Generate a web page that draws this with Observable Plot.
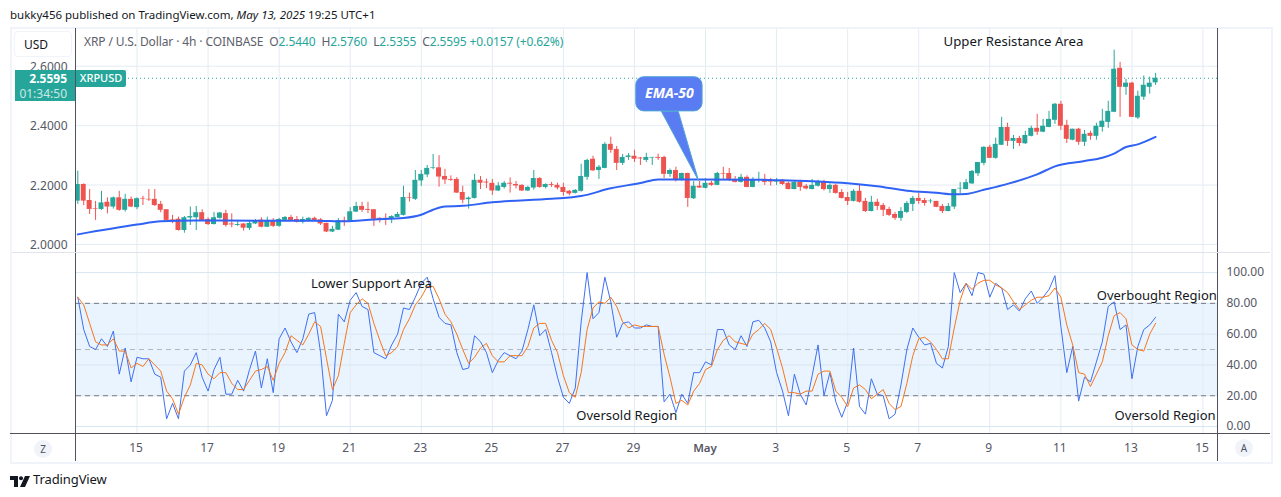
<!DOCTYPE html>
<html><head><meta charset="utf-8">
<script src="https://cdn.jsdelivr.net/npm/d3@7"></script>
<script src="https://cdn.jsdelivr.net/npm/@observablehq/plot@0.6"></script>
<style>
html,body{margin:0;padding:0;background:#fff;overflow:hidden}
#page{position:relative;width:1281px;height:497px;font-family:"Noto Sans",sans-serif;font-size:12px;color:#131722}
#page svg{font-family:"Noto Sans",sans-serif}
.abs{position:absolute;white-space:nowrap}
.plot{position:absolute;left:0}
.up{color:#26a69a}
</style></head><body>
<div id="page"></div>
<script>
const opens=[2.146,2.202,2.148,2.121,2.118,2.142,2.126,2.157,2.115,2.152,
2.124,2.155,2.152,2.152,2.135,2.117,2.084,2.085,2.047,2.089,
2.090,2.107,2.084,2.067,2.088,2.104,2.069,2.064,2.069,2.054,
2.069,2.082,2.058,2.081,2.061,2.081,2.091,2.084,2.075,2.081,
2.088,2.083,2.071,2.042,2.048,2.081,2.078,2.109,2.128,2.118,
2.117,2.088,2.088,2.084,2.091,2.098,2.158,2.152,2.214,2.234,
2.257,2.258,2.229,2.219,2.219,2.175,2.151,2.155,2.216,2.210,
2.206,2.180,2.192,2.206,2.202,2.199,2.180,2.190,2.222,2.192,
2.202,2.199,2.192,2.179,2.172,2.179,2.226,2.287,2.249,2.256,
2.337,2.320,2.273,2.293,2.297,2.291,2.283,2.291,2.293,2.293,
2.236,2.249,2.216,2.239,2.154,2.196,2.189,2.206,2.199,2.239,
2.239,2.219,2.209,2.226,2.192,2.215,2.219,2.212,2.210,2.212,
2.206,2.185,2.209,2.196,2.185,2.196,2.212,2.185,2.199,2.175,
2.158,2.145,2.179,2.145,2.111,2.142,2.131,2.118,2.101,2.088,
2.108,2.135,2.155,2.148,2.144,2.145,2.128,2.111,2.126,2.187,
2.185,2.204,2.238,2.273,2.327,2.290,2.334,2.394,2.347,2.357,
2.339,2.364,2.391,2.378,2.394,2.418,2.472,2.401,2.351,2.388,
2.344,2.374,2.364,2.394,2.411,2.445,2.593,2.529,2.543,2.426,
2.496,2.529,2.5440];
const highs=[2.247,2.204,2.185,2.145,2.179,2.157,2.160,2.179,2.169,2.160,
2.157,2.162,2.185,2.185,2.145,2.117,2.098,2.092,2.094,2.126,
2.128,2.117,2.090,2.108,2.108,2.115,2.103,2.081,2.070,2.081,
2.084,2.090,2.092,2.087,2.088,2.094,2.098,2.094,2.092,2.090,
2.092,2.087,2.072,2.061,2.087,2.092,2.124,2.142,2.142,2.142,
2.117,2.090,2.103,2.097,2.108,2.196,2.173,2.249,2.249,2.266,
2.303,2.299,2.253,2.231,2.225,2.196,2.160,2.236,2.229,2.220,
2.219,2.208,2.212,2.224,2.212,2.201,2.196,2.249,2.225,2.204,
2.209,2.206,2.206,2.182,2.185,2.270,2.287,2.297,2.266,2.343,
2.361,2.330,2.303,2.306,2.317,2.293,2.307,2.293,2.304,2.297,
2.254,2.260,2.240,2.240,2.212,2.212,2.222,2.212,2.243,2.260,
2.256,2.229,2.236,2.231,2.225,2.243,2.236,2.222,2.222,2.219,
2.209,2.212,2.216,2.202,2.219,2.216,2.216,2.204,2.202,2.185,
2.175,2.185,2.199,2.155,2.162,2.152,2.138,2.125,2.108,2.124,
2.145,2.162,2.172,2.155,2.152,2.145,2.135,2.138,2.185,2.209,
2.219,2.249,2.276,2.329,2.334,2.358,2.428,2.408,2.367,2.364,
2.381,2.398,2.438,2.421,2.448,2.475,2.482,2.418,2.388,2.391,
2.384,2.381,2.408,2.455,2.482,2.654,2.613,2.556,2.546,2.516,
2.567,2.563,2.5760];
const lows=[2.135,2.131,2.101,2.081,2.115,2.103,2.119,2.112,2.109,2.124,
2.117,2.131,2.145,2.128,2.107,2.079,2.070,2.045,2.038,2.064,
2.047,2.079,2.064,2.066,2.085,2.058,2.056,2.061,2.045,2.047,
2.067,2.056,2.057,2.057,2.058,2.079,2.079,2.072,2.069,2.079,
2.078,2.064,2.040,2.040,2.047,2.061,2.076,2.108,2.108,2.104,
2.061,2.072,2.064,2.070,2.090,2.096,2.143,2.148,2.196,2.225,
2.252,2.193,2.202,2.212,2.172,2.137,2.119,2.153,2.185,2.188,
2.165,2.178,2.187,2.173,2.187,2.178,2.178,2.183,2.189,2.187,
2.192,2.184,2.162,2.164,2.170,2.176,2.216,2.246,2.219,2.255,
2.307,2.249,2.266,2.283,2.276,2.266,2.276,2.266,2.283,2.222,
2.226,2.210,2.213,2.125,2.151,2.189,2.187,2.196,2.198,2.216,
2.212,2.207,2.207,2.191,2.191,2.207,2.199,2.197,2.199,2.199,
2.184,2.184,2.179,2.184,2.184,2.193,2.180,2.172,2.169,2.153,
2.131,2.143,2.139,2.108,2.110,2.115,2.094,2.094,2.081,2.078,
2.104,2.111,2.135,2.129,2.137,2.124,2.104,2.110,2.118,2.171,
2.184,2.202,2.229,2.265,2.289,2.287,2.333,2.330,2.320,2.330,
2.337,2.362,2.367,2.376,2.393,2.404,2.384,2.340,2.349,2.334,
2.330,2.351,2.351,2.378,2.391,2.444,2.428,2.502,2.427,2.421,
2.485,2.506,2.5355];
const closes=[2.202,2.146,2.118,2.119,2.140,2.126,2.157,2.115,2.152,2.126,
2.154,2.153,2.150,2.131,2.115,2.081,2.082,2.047,2.090,2.094,
2.107,2.081,2.067,2.090,2.106,2.064,2.066,2.067,2.055,2.071,
2.080,2.058,2.081,2.061,2.084,2.091,2.081,2.075,2.084,2.088,
2.081,2.069,2.042,2.051,2.080,2.079,2.110,2.128,2.115,2.115,
2.085,2.085,2.084,2.094,2.101,2.158,2.156,2.216,2.236,2.256,
2.259,2.227,2.217,2.216,2.173,2.149,2.156,2.216,2.206,2.207,
2.180,2.197,2.206,2.203,2.197,2.180,2.192,2.222,2.192,2.202,
2.199,2.190,2.175,2.170,2.182,2.229,2.283,2.248,2.260,2.337,
2.317,2.273,2.293,2.298,2.287,2.288,2.293,2.293,2.290,2.236,
2.249,2.216,2.239,2.155,2.196,2.190,2.206,2.199,2.239,2.237,
2.216,2.209,2.226,2.192,2.216,2.218,2.209,2.210,2.215,2.202,
2.185,2.209,2.192,2.187,2.199,2.212,2.185,2.199,2.172,2.155,
2.145,2.179,2.142,2.111,2.142,2.128,2.115,2.098,2.088,2.111,
2.138,2.155,2.145,2.138,2.146,2.125,2.111,2.128,2.185,2.189,
2.208,2.246,2.276,2.327,2.290,2.337,2.394,2.347,2.357,2.340,
2.367,2.391,2.378,2.398,2.421,2.472,2.398,2.354,2.388,2.344,
2.371,2.364,2.398,2.415,2.448,2.590,2.529,2.543,2.428,2.499,
2.536,2.543,2.5595];
const emaBars=[0,10,14,20,30,40,45,50,55,58,60,62,65,70,80,85,90,95,98,105,115,119,125,130,135,140,145,148,150,153,157,162,165,170,173,175,177,179,182];
const emaValues=[2.034,2.067,2.078,2.081,2.080,2.080,2.078,2.084,2.089,2.100,2.117,2.128,2.130,2.142,2.154,2.163,2.189,2.207,2.219,2.219,2.218,2.216,2.212,2.206,2.196,2.181,2.174,2.169,2.170,2.184,2.204,2.236,2.263,2.281,2.292,2.306,2.328,2.337,2.362];
const stochK=[84,63,52,50,57,52,62,34,51,29,
45,44,44,34,32,5,15,5,36,40,
48,32,23,37,45,21,21,30,23,37,
49,25,44,22,57,64,55,48,57,73,
74,48,7,17,73,68,82,87,78,76,
48,46,44,53,60,77,76,84,93,97,
83,71,67,66,48,37,38,59,55,48,
35,43,48,46,44,49,63,79,59,63,
48,32,19,15,25,68,100,70,74,97,
81,58,67,68,64,64,66,65,65,16,
21,9,21,15,35,35,42,40,63,63,
53,50,59,52,68,69,64,55,35,23,
7,34,21,14,33,53,20,35,16,6,
16,51,13,8,31,21,20,5,8,27,
50,64,58,53,54,41,38,52,100,87,
93,85,100,99,84,93,90,76,79,75,
83,88,80,84,89,98,65,35,52,16.5,
32,29,42,55,78,81,63,66,31,52,
63,66,71];
const stochD=[84,79,67,55,53,53,57,49,49,38,
41,39,44,40,36,23,18,8,19,27,
41,40,34,31,35,35,28,24,24,30,
36,37,39,30,41,48,59,56,53,60,
68,65,44,24,33,54,74,79,83,80,
67,56,46,48,52,63,70,79,84,91,
91,83,73,68,60,50,41,45,51,54,
46,42,42,46,46,46,52,64,67,67,
56,48,33,22,19,35,63,77,81,80,
84,78,68,64,66,65,65,65,65,47,
32,15,17,14,23,28,37,39,50,56,
59,55,54,53,60,63,67,63,51,38,
22,22,21,23,23,34,36,36,23,19,
13,25,27,24,18,21,24,15,11,13,
28,46,57,58,55,50,44,44,64,82,
93,89,93,95,95,92,90,87,81,76,
79,82,84,84,85,90,84,66,53,35,
34,26,34,42,59,72,74,70,53,50,
49,60,67];
const tickBars=[10,22,34,46,58,70,82,94,106,118,130,142,154,166,178,190];
const tickLabels=["15","17","19","21","23","25","27","29","May","3","5","7","9","11","13","15"];
const priceTicks=[2.0,2.2,2.4,2.6];
const stochTicks=[0,20,40,60,80,100];
const lastPrice=2.5595;
const calloutTailBars=[98.55,101.4,104.8,98.55];
const calloutTailPrices=[2.448,2.448,2.2155,2.448];
const priceNotes=[{bar:158,price:2.683,label:"Upper Resistance Area"}];
const stochNotes=[
 {bar:49.6,value:92.5,label:"Lower Support Area"},
 {bar:92.7,value:7,label:"Oversold Region"},
 {bar:182.2,value:84.7,label:"Overbought Region"},
 {bar:183.6,value:7,label:"Oversold Region"}];

const GREEN="#26a69a",RED="#ef5350",GRID="#e3ecf3",BLUE="#2f62f5",KBLUE="#3f70f2",ORANGE="#f7761c",TXT="#131722",AXIS="#50535e";
const bars=opens.map((o,i)=>({i,o,h:highs[i],l:lows[i],c:closes[i],col:closes[i]>=o?GREEN:RED}));
const xDomain=[-0.22,192.45];
const page=document.getElementById("page");
const tickMap=new Map(tickBars.map((b,i)=>[b,tickLabels[i]]));

const pricePlot=Plot.plot({
 width:1281,height:253,marginLeft:76,marginRight:64,marginTop:28,marginBottom:1,
 style:{background:"transparent",fontSize:"12px",overflow:"visible"},
 x:{type:"linear",domain:xDomain,axis:null},
 y:{domain:[1.973,2.727],label:null},
 marks:[
  Plot.ruleX(tickBars,{stroke:GRID}),
  Plot.ruleY(priceTicks,{stroke:GRID}),
  Plot.axisY(priceTicks,{anchor:"left",tickSize:0,tickPadding:9,dy:1,label:null,tickFormat:d=>d.toFixed(4),fill:"#555865",fontSize:12}),
  Plot.ruleY([lastPrice],{stroke:GREEN,strokeDasharray:"1,3"}),
  Plot.ruleX(bars,{x:"i",y1:"l",y2:"h",stroke:"col",strokeWidth:1,clip:true}),
  Plot.rect(bars,{x1:d=>d.i-0.42,x2:d=>d.i+0.42,y1:"o",y2:"c",fill:"col",clip:true}),
  Plot.line(emaBars.map((b,i)=>[b,emaValues[i]]),{x:d=>d[0],y:d=>d[1],stroke:BLUE,strokeWidth:2,curve:"monotone-x"}),
  Plot.line(calloutTailBars.map((b,i)=>[b,calloutTailPrices[i]]),{x:d=>d[0],y:d=>d[1],fill:"#5a7cf2",stroke:"#4ea3d8",strokeWidth:1}),
  Plot.rect([{x1:94.3,x2:105.5,y1:2.448,y2:2.563}],{x1:"x1",x2:"x2",y1:"y1",y2:"y2",fill:"#5a7cf2",stroke:"#4ea3d8",rx:8}),
  Plot.text([{bar:99.9,price:2.507}],{x:"bar",y:"price",text:()=>"EMA-50",fill:"#fff",fontStyle:"italic",fontWeight:"bold",fontSize:14}),
  Plot.text(priceNotes,{x:"bar",y:"price",text:"label",fill:TXT,fontSize:13.2})
 ]});
pricePlot.classList.add("plot");pricePlot.style.top="0px";page.appendChild(pricePlot);

const stochPlot=Plot.plot({
 width:1281,height:209,marginLeft:76,marginRight:64,marginTop:0,marginBottom:28,
 style:{background:"transparent",fontSize:"12px",overflow:"visible"},
 x:{type:"linear",domain:xDomain,axis:null},
 y:{domain:[-5.2,112.4],label:null},
 marks:[
  Plot.rect([{}],{x1:()=>xDomain[0],x2:()=>xDomain[1],y1:()=>20,y2:()=>80,fill:"#e9f4fe"}),
  Plot.ruleX(tickBars,{stroke:GRID}),
  Plot.ruleY(stochTicks,{stroke:"#d8e6f1"}),
  Plot.ruleY([20,80],{stroke:"#787b86",strokeDasharray:"5,4"}),
  Plot.ruleY([50],{stroke:"#b2b5be",strokeDasharray:"5,4"}),
  Plot.line(stochK,{x:(d,i)=>i,y:d=>d,stroke:KBLUE,strokeWidth:1}),
  Plot.line(stochD,{x:(d,i)=>i,y:d=>d,stroke:ORANGE,strokeWidth:1}),
  Plot.text(stochNotes,{x:"bar",y:"value",text:"label",fill:TXT,fontSize:13}),
  Plot.axisY(stochTicks,{anchor:"right",tickSize:0,tickPadding:9,label:null,tickFormat:d=>d.toFixed(2),fill:"#555865",fontSize:12}),
  Plot.axisX(tickBars.filter(b=>tickMap.get(b)!=="May"),{anchor:"bottom",tickSize:0,tickPadding:9,dx:-1,label:null,tickFormat:b=>tickMap.get(b),fill:"#555865",fontSize:12}),
  Plot.axisX(tickBars.filter(b=>tickMap.get(b)==="May"),{anchor:"bottom",tickSize:0,tickPadding:9,dx:-0.5,label:null,tickFormat:b=>tickMap.get(b),fill:"#555865",fontWeight:600,fontSize:11.5})
 ]});
stochPlot.classList.add("plot");stochPlot.style.top="253px";page.appendChild(stochPlot);

function box(css,html){const d=document.createElement("div");d.className="abs";d.style.cssText=css;if(html)d.innerHTML=html;page.appendChild(d);return d;}
// frame
box("left:10px;top:27px;width:1259px;height:433px;border:2px solid #f0f3fa;pointer-events:none");
box("left:75px;top:28px;width:1px;height:433px;background:"+AXIS);
box("left:1217px;top:28px;width:1px;height:433px;background:"+AXIS);
box("left:10px;top:433px;width:1260px;height:1px;background:"+AXIS);
box("left:12px;top:252px;width:1258px;height:1px;background:#e0e3eb");
// header
box("left:10px;top:7px;font-size:11.5px;color:#131722;line-height:16px",'bukky456 published on TradingView.com, <i>May 13, 2025</i> 19:25 UTC+1');
box("left:84px;top:34px;font-size:12px;letter-spacing:-0.11px;color:#5d606b;line-height:16px",'XRP / U.S. Dollar · 4h · COINBASE&nbsp; O<span class="up">2.5440</span>&nbsp; H<span class="up">2.5760</span>&nbsp; L<span class="up">2.5355</span>&nbsp; C<span class="up">2.5595</span> <span class="up">+0.0157 (+0.62%)</span>');
box("left:14px;top:31px;width:56px;height:24px;border:1px solid #f0f3fa;border-radius:4px;background:#fff;line-height:25px;text-align:left;text-indent:9px;font-size:12px;color:#131722","USD");
// last price tag
box("left:15px;top:70px;width:60px;height:31px;background:#26a69a;color:#fff;text-align:right;font-size:12px;line-height:15px;box-sizing:border-box;padding:1px 8px 0 0",'<b>2.5595</b><br><span style="opacity:.75">01:34:50</span>');
box("left:76px;top:70px;width:50px;height:17px;background:#26a69a;color:#fff;font-size:11px;font-weight:500;line-height:16px;text-align:center;border-radius:0 2px 2px 0","XRPUSD");
// bottom buttons
box("left:34px;top:440px;width:18px;height:18px;border-radius:9px;background:#f0f3fa;color:#50535e;font-size:10px;line-height:18px;text-align:center","Z");
box("left:1235px;top:439px;width:18px;height:18px;border-radius:9px;background:#f0f3fa;color:#50535e;font-size:10px;line-height:18px;text-align:center","A");
// logo
box("left:10px;top:474px;width:20px;height:11px",'<svg width="20" height="11" viewBox="0 0 20 11"><path d="M0 0h8v11H4V4H0z" fill="#131722"/><circle cx="11" cy="2.2" r="2" fill="#131722"/><path d="M15 0h5l-5 11h-5z" fill="#131722"/></svg>');
box("left:33px;top:471px;font-size:13px;font-weight:400;letter-spacing:-0.1px;line-height:16px;color:#131722","TradingView");
</script>
</body></html>
